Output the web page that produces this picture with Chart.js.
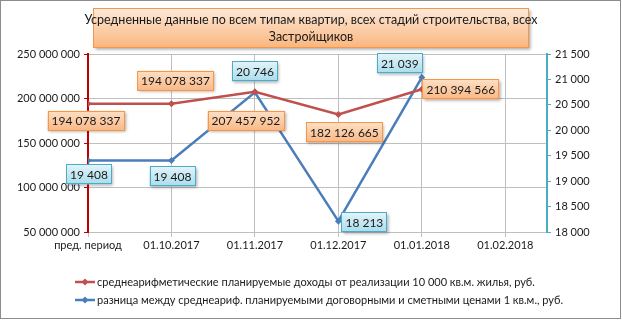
<!DOCTYPE html>
<html><head><meta charset="utf-8">
<script src="https://cdn.jsdelivr.net/npm/chart.js@4"></script>
<style>html,body{margin:0;padding:0;background:#fff}#wrap{width:622px;height:323px;position:relative}</style>
</head><body><div id="wrap"><canvas id="c" width="622" height="323"></canvas></div>
<script>
const categories = ['пред. период','01.10.2017','01.11.2017','01.12.2017','01.01.2018','01.02.2018'];
const incomeValues = [194078337,194078337,207457952,182126665,210394566];
const priceDiffValues = [19408,19408,20746,18213,21039];
const leftTicks = [50000000,100000000,150000000,200000000,250000000];
const rightTicks = [18000,18500,19000,19500,20000,20500,21000,21500];
const titleLines = ['Усредненные данные по всем типам квартир, всех стадий строительства, всех','Застройщиков'];
const seriesNames = ['среднеарифметические планируемые доходы от реализации 10 000 кв.м. жилья, руб.',
                     'разница между среднеариф. планируемыми договорными и сметными ценами 1 кв.м., руб.'];

const FONT = 'Lato, "Open Sans", sans-serif';
const RED = '#c0504d', BLUE = '#4a7ebb';
const fmt = v => String(Math.round(v)).replace(/\B(?=(\d{3})+(?!\d))/g, ' ');

// label placement (offset from point), style only
const labelPlace = [
  [[-2,17],[4,-23],[-9,29],[6,18],[39,0]],
  [[1,14],[1,16],[0,-21],[26,1],[-22,-14]]
];
const boxStyles = [
  {top:'#fde0c6', bottom:'#fab784', border:'#f79646'},
  {top:'#e4f4f9', bottom:'#a9dcec', border:'#4bacc6'}
];

function roundBox(ctx, x, y, w, h, st, shadow){
  ctx.save();
  if (shadow){ctx.shadowColor='rgba(0,0,0,0.35)';ctx.shadowBlur=3;ctx.shadowOffsetX=1.5;ctx.shadowOffsetY=1.5;}
  const g = ctx.createLinearGradient(0,y,0,y+h);
  g.addColorStop(0, st.top); g.addColorStop(1, st.bottom);
  ctx.fillStyle = g;
  ctx.fillRect(x,y,w,h);
  ctx.restore();
  ctx.save();
  ctx.strokeStyle = st.border; ctx.lineWidth = 1;
  ctx.strokeRect(Math.round(x)+0.5, Math.round(y)+0.5, Math.round(w)-1, Math.round(h)-1);
  ctx.restore();
}

const labelsPlugin = {
  id:'boxLabels',
  afterDatasetsDraw(chart){
    const ctx = chart.ctx;
    ctx.save();
    ctx.font = '12px ' + FONT;
    chart.data.datasets.forEach((ds, di) => {
      const meta = chart.getDatasetMeta(di);
      meta.data.forEach((pt, i) => {
        const txt = fmt(ds.data[i].y);
        const w = ctx.measureText(txt).width + 8, h = 20;
        const [dx, dy] = labelPlace[di][i];
        const cx = pt.x + dx, cy = pt.y + dy;
        roundBox(ctx, cx - w/2, cy - h/2, w, h, boxStyles[di], true);
        ctx.fillStyle = '#1a1a1a';
        ctx.textAlign = 'center'; ctx.textBaseline = 'middle';
        ctx.fillText(txt, cx, cy + 0.5);
      });
    });
    ctx.restore();
  },
  afterDraw(chart){
    const ctx = chart.ctx;
    // title box
    ctx.save();
    roundBox(ctx, 93, 8, 436, 40, {top:'#fde9d9', bottom:'#fab67e', border:'#f79646'}, true);
    ctx.fillStyle = '#1a1a1a';
    ctx.font = '12.5px ' + FONT;
    ctx.textAlign = 'center'; ctx.textBaseline = 'middle';
    ctx.fillText(titleLines[0], 311, 20);
    ctx.fillText(titleLines[1], 311, 37);
    // legend
    ctx.font = '11px ' + FONT;
    ctx.textAlign = 'left';
    const rows = [[282, RED],[300, BLUE]];
    rows.forEach(([y, col], k) => {
      ctx.strokeStyle = col; ctx.lineWidth = 2.5;
      ctx.beginPath(); ctx.moveTo(75, y); ctx.lineTo(95, y); ctx.stroke();
      ctx.fillStyle = col;
      ctx.beginPath(); ctx.moveTo(85, y-3.5); ctx.lineTo(88.5, y); ctx.lineTo(85, y+3.5); ctx.lineTo(81.5, y); ctx.closePath(); ctx.fill();
      ctx.fillStyle = '#1a1a1a';
      ctx.fillText(seriesNames[k], 97, y);
    });
    // frame
    ctx.strokeStyle = '#8c8c8c'; ctx.lineWidth = 1;
    ctx.strokeRect(0.5, 0.5, 620, 318);
    ctx.restore();
  }
};

new Chart(document.getElementById('c'), {
  type: 'line',
  data: {
    datasets: [
      {label: seriesNames[0], data: incomeValues.map((v,i)=>({x:i,y:v})), yAxisID:'y',
       borderColor: RED, backgroundColor: RED, borderWidth: 2.5, pointStyle:'rectRot', pointRadius: 3.5, pointBorderWidth:0, tension:0},
      {label: seriesNames[1], data: priceDiffValues.map((v,i)=>({x:i,y:v})), yAxisID:'y1',
       borderColor: BLUE, backgroundColor: BLUE, borderWidth: 2.5, pointStyle:'rectRot', pointRadius: 3.5, pointBorderWidth:0, tension:0}
    ]
  },
  options: {
    responsive:false, devicePixelRatio:1, animation:false,
    layout:{padding:{top:54, left:0, right:0, bottom:0}},
    plugins:{legend:{display:false}, tooltip:{enabled:false}},
    scales:{
      x:{type:'linear', min:0, max:5.5,
         afterFit(s){ s.height = 91; },
         grid:{color:'#bfbfbf', tickColor:'#bfbfbf', tickLength:5, lineWidth:1},
         border:{color:'#bfbfbf'},
         afterBuildTicks(s){ s.ticks = categories.map((c,i)=>({value:i})); },
         ticks:{font:{family:FONT, size:11}, color:'#1a1a1a', padding:2, maxRotation:0, autoSkip:false,
                callback:(v)=> categories[v] ?? ''}
      },
      y:{position:'left', min:leftTicks[0], max:leftTicks[leftTicks.length-1],
         afterFit(s){ s.width = 88; },
         afterBuildTicks(s){ s.ticks = leftTicks.map(v=>({value:v})); },
         grid:{color:'#bfbfbf', tickColor:'#c00000', tickLength:4},
         border:{color:'#c00000', width:2},
         ticks:{font:{family:FONT, size:11}, color:'#1a1a1a', padding:4, callback:v=>fmt(v)}
      },
      y1:{position:'right', min:rightTicks[0], max:rightTicks[rightTicks.length-1],
         afterFit(s){ s.width = 75; },
         afterBuildTicks(s){ s.ticks = rightTicks.map(v=>({value:v})); },
         grid:{drawOnChartArea:false, tickColor:'#4bacc6', tickLength:4},
         border:{color:'#4bacc6', width:2},
         ticks:{font:{family:FONT, size:11}, color:'#1a1a1a', padding:4, callback:v=>fmt(v)}
      }
    }
  },
  plugins:[labelsPlugin]
});
</script></body></html>
